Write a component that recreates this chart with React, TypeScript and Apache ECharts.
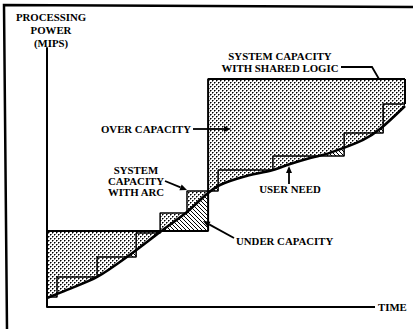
import React, { useEffect, useRef } from "react";
import * as echarts from "echarts";

// User need curve (time units 0-100, MIPS units 0-100)
const needTime = [0, 5.6, 14, 22.3, 31.6, 39.1, 45, 48.3, 54.7, 63.1, 67.9, 73.5, 79, 88.3, 93, 100];
const needMips = [3.5, 6.6, 11.6, 19.3, 29, 36.7, 44, 47.1, 50.2, 52.9, 55.2, 57.5, 59.5, 64.5, 68.7, 77.6];

// Incremental (ARC) capacity staircase: level stepMips[i] holds from stepTime[i] to stepTime[i+1]
const stepTime = [0, 2.8, 14, 24.9, 31.6, 39.1, 47.8, 63.1, 83, 93.9, 100];
const stepMips = [3.9, 11.6, 19.3, 28.6, 36.3, 44.8, 52.9, 58.3, 67.2, 78.4, 78.4];

// System capacity: base level, then shared logic level
const capTime = [0, 45, 100];
const capMips = [29.3, 88, 88];

// ARC region: from this stair index up to the shared-logic jump
const arcStepIndex = 4;

const yTitle = ["PROCESSING", "POWER", "(MIPS)"];
const xTitle = "TIME";
const sharedLabel = ["SYSTEM CAPACITY", "WITH SHARED LOGIC"];
const arcLabel = ["SYSTEM", "CAPACITY", "WITH ARC"];
const overLabel = "OVER CAPACITY";
const underLabel = "UNDER CAPACITY";
const needLabel = "USER NEED";

const FONT = '"Liberation Serif", "Times New Roman", serif';

function needAt(x: number) {
  for (let i = 0; i < needTime.length - 1; i++) {
    if (x <= needTime[i + 1]) {
      const t = (x - needTime[i]) / (needTime[i + 1] - needTime[i]);
      return needMips[i] + t * (needMips[i + 1] - needMips[i]);
    }
  }
  return needMips[needMips.length - 1];
}
function needInv(y: number) {
  for (let i = 0; i < needMips.length - 1; i++) {
    if (y <= needMips[i + 1]) {
      const t = (y - needMips[i]) / (needMips[i + 1] - needMips[i]);
      return needTime[i] + t * (needTime[i + 1] - needTime[i]);
    }
  }
  return needTime[needTime.length - 1];
}
function curveBetween(a: number, b: number) {
  const pts: number[][] = [];
  needTime.forEach((t, i) => {
    if (t > a && t < b) pts.push([t, needMips[i]]);
  });
  return pts;
}
function hatchAbove(L: number, xa: number, xb: number) {
  if (needAt(xb) <= L + 0.01) return null;
  const xs = Math.max(xa, needInv(L));
  return [[xs, L], ...curveBetween(xs, xb), [xb, needAt(xb)], [xb, L]];
}
function stairClip(a: number, b: number) {
  const pts: number[][] = [];
  for (let i = 0; i < stepTime.length - 1; i++) {
    const x0 = Math.max(a, stepTime[i]);
    const x1 = Math.min(b, stepTime[i + 1]);
    if (x1 > x0) {
      pts.push([x0, stepMips[i]], [x1, stepMips[i]]);
    }
  }
  return pts;
}

function makeDots() {
  const c = document.createElement("canvas");
  c.width = 4;
  c.height = 4;
  const g = c.getContext("2d")!;
  g.fillStyle = "#fff";
  g.fillRect(0, 0, 4, 4);
  g.fillStyle = "#000";
  g.fillRect(0, 0, 1, 1);
  g.fillRect(2, 2, 1, 1);
  g.fillStyle = "#777";
  g.fillRect(1, 0, 1, 1);
  g.fillRect(0, 1, 1, 1);
  g.fillRect(3, 2, 1, 1);
  g.fillRect(2, 3, 1, 1);
  return c;
}
function makeHatch() {
  const c = document.createElement("canvas");
  c.width = 4;
  c.height = 4;
  const g = c.getContext("2d")!;
  g.fillStyle = "#fff";
  g.fillRect(0, 0, 4, 4);
  g.fillStyle = "#000";
  for (let i = 0; i < 4; i++) g.fillRect(i, i, 1, 1);
  return c;
}

function txt(s: string, x: number, y: number, align = "center") {
  return {
    type: "text",
    x,
    y,
    z: 100,
    style: {
      text: s,
      font: `bold 10.8px ${FONT}`,
      fill: "#000",
      textAlign: align,
      align,
      textVerticalAlign: "middle",
      verticalAlign: "middle",
    },
  };
}
function arrow(x1: number, y1: number, x2: number, y2: number) {
  const ang = Math.atan2(y2 - y1, x2 - x1);
  const len = 7;
  const hw = 3;
  const bx = x2 - len * Math.cos(ang);
  const by = y2 - len * Math.sin(ang);
  const px = -Math.sin(ang) * hw;
  const py = Math.cos(ang) * hw;
  return [
    { type: "line", z: 100, shape: { x1, y1, x2: bx, y2: by }, style: { stroke: "#000", lineWidth: 1.8 } },
    {
      type: "polygon",
      z: 100,
      shape: { points: [[x2, y2], [bx + px, by + py], [bx - px, by - py]] },
      style: { fill: "#000" },
    },
  ];
}

export default function App() {
  const ref = useRef<HTMLDivElement>(null);
  useEffect(() => {
    if (!ref.current) return;
    const chart = echarts.init(ref.current, undefined, { renderer: "svg" });
    const dots = makeDots();
    const hatch = makeHatch();
    const dotFill = { image: dots, repeat: "repeat" };
    const hatchFill = { image: hatch, repeat: "repeat" };
    const tMax = needTime[needTime.length - 1];

    const renderItem = (_params: any, api: any) => {
      const c = (p: number[]) => api.coord(p);
      const poly = (pts: number[][], fill: any) => ({
        type: "polygon",
        silent: true,
        shape: { points: pts.map(c) },
        style: { fill, stroke: null },
      });
      const children: any[] = [];
      // over capacity: area under system capacity
      const capPts: number[][] = [];
      for (let i = 0; i < capTime.length - 1; i++) {
        capPts.push([capTime[i], capMips[i]], [capTime[i + 1], capMips[i]]);
      }
      children.push(poly([[0, 0], ...capPts, [tMax, 0]], dotFill));
      // ARC increments above base capacity
      const a = stepTime[arcStepIndex];
      const b = capTime[1];
      children.push(poly([[a, 0], ...stairClip(a, b), [b, 0]], dotFill));
      // clear below user need
      children.push(
        poly([[0, 0], ...needTime.map((t, i) => [t, needMips[i]]), [tMax, 0]], "#fff")
      );
      // under capacity
      const under = hatchAbove(capMips[0], capTime[0], capTime[1]);
      if (under) children.push(poly(under, hatchFill));
      for (let i = 0; i < stepTime.length - 1; i++) {
        const h = hatchAbove(stepMips[i], stepTime[i], stepTime[i + 1]);
        if (h) children.push(poly(h, hatchFill));
      }
      // right edge of shared-logic box
      const p1 = c([capTime[capTime.length - 1], capMips[capMips.length - 1]]);
      const p2 = c([stepTime[stepTime.length - 1], stepMips[stepMips.length - 1]]);
      children.push({
        type: "line",
        shape: { x1: p1[0], y1: p1[1], x2: p2[0], y2: p2[1] },
        style: { stroke: "#000", lineWidth: 2 },
      });
      return { type: "group", children };
    };

    chart.setOption({
      animation: false,
      backgroundColor: "#fff",
      grid: { left: 47, right: 8, top: 48, bottom: 22 },
      xAxis: {
        type: "value",
        min: 0,
        max: 100,
        axisLine: { show: false },
        axisTick: { show: false },
        axisLabel: { show: false },
        splitLine: { show: false },
      },
      yAxis: {
        type: "value",
        min: 0,
        max: 100,
        z: 10,
        axisLine: { show: true, lineStyle: { color: "#000", width: 2 } },
        axisTick: { show: false },
        axisLabel: { show: false },
        splitLine: { show: false },
      },
      series: [
        { type: "custom", z: 1, silent: true, data: [[0, 0]], renderItem },
        {
          type: "line",
          z: 3,
          silent: true,
          step: "end",
          symbol: "none",
          data: stepTime.map((t, i) => [t, stepMips[i]]),
          lineStyle: { color: "#000", width: 1.5 },
        },
        {
          type: "line",
          z: 3,
          silent: true,
          step: "end",
          symbol: "none",
          data: capTime.map((t, i) => [t, capMips[i]]),
          lineStyle: { color: "#000", width: 2 },
        },
        {
          type: "line",
          z: 4,
          silent: true,
          smooth: 0.3,
          symbol: "none",
          data: needTime.map((t, i) => [t, needMips[i]]),
          lineStyle: { color: "#000", width: 2.6 },
        },
      ],
      graphic: [
        {
          type: "polyline",
          z: 100,
          shape: { points: [[7, 329], [4, 5], [413, 7]] },
          style: { stroke: "#000", lineWidth: 2.5, fill: null },
        },
        { type: "line", z: 100, shape: { x1: 47, y1: 307, x2: 375, y2: 307 }, style: { stroke: "#000", lineWidth: 2 } },
        txt(xTitle, 378, 307, "left"),
        ...yTitle.map((s, i) => txt(s, 51, 17 + i * 13)),
        ...sharedLabel.map((s, i) => txt(s, 280, 56 + i * 11.5)),
        {
          type: "polyline",
          z: 100,
          shape: { points: [[341, 67], [372, 67], [379, 79]] },
          style: { stroke: "#000", lineWidth: 1.8, fill: null },
        },
        txt(overLabel, 146, 129),
        ...arrow(193, 129, 231, 129),
        ...arcLabel.map((s, i) => txt(s, 136, 170 + i * 11)),
        ...arrow(165, 181, 187, 190),
        txt(needLabel, 290, 189),
        ...arrow(289, 184, 289, 166),
        txt(underLabel, 236, 241, "left"),
        ...arrow(234, 238, 203, 221),
      ],
    });
    return () => chart.dispose();
  }, []);
  return (
    <div
      ref={ref}
      style={{ position: "fixed", left: 0, top: 0, width: 413, height: 329, background: "#fff" }}
    />
  );
}
